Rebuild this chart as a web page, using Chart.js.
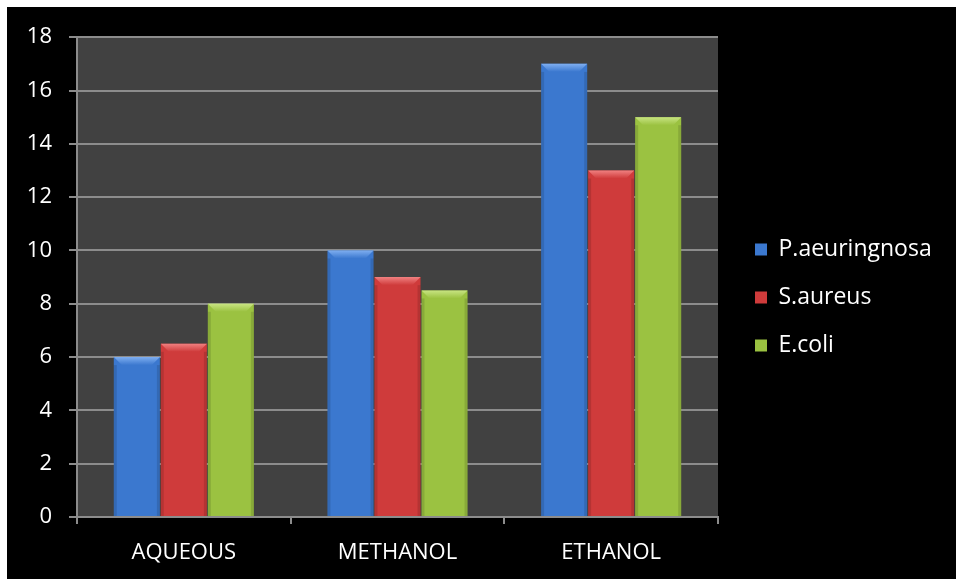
<!DOCTYPE html>
<html>
<head>
<meta charset="utf-8">
<script src="https://cdn.jsdelivr.net/npm/chart.js@4/dist/chart.umd.min.js"></script>
<style>
    html, body { margin: 0; padding: 0; background: #ffffff; }
    #wrap { position: absolute; left: 7px; top: 7px; width: 949px; height: 572px; background: #000000; }
</style>
</head>
<body>
<div id="wrap"><canvas id="grafico" width="949" height="572"></canvas></div>
<script>
// Datos del gráfico
const extractos = ['AQUEOUS', 'METHANOL', 'ETHANOL'];
const pAeruginosa = [6, 10, 17];
const sAureus = [6.5, 9, 13];
const eColi = [8, 8.5, 15];
const nombresSeries = ['P.aeuringnosa', 'S.aureus', 'E.coli'];

const colores = ['#3b78cf', '#cf3b3b', '#9bc241'];
const coloresClaros = ['#7eaef0', '#f08080', '#c8e482'];

const fuente = 'Open Sans';

// Fondo gris del área de trazado
const fondoArea = {
    id: 'fondoArea',
    beforeDraw(chart) {
        const { ctx, chartArea: a } = chart;
        ctx.save();
        ctx.fillStyle = '#414141';
        ctx.fillRect(a.left, a.top, a.right - a.left, a.bottom - a.top);
        ctx.restore();
    }
};

// Biselado superior de cada barra
const bisel = {
    id: 'bisel',
    afterDatasetsDraw(chart) {
        const ctx = chart.ctx;
        chart.data.datasets.forEach((ds, i) => {
            chart.getDatasetMeta(i).data.forEach(bar => {
                const izq = bar.x - bar.width / 2;
                const der = bar.x + bar.width / 2;
                const arriba = bar.y;
                const h = 8;
                ctx.save();
                const grad = ctx.createLinearGradient(0, arriba, 0, arriba + h);
                grad.addColorStop(0, coloresClaros[i]);
                grad.addColorStop(1, colores[i]);
                ctx.fillStyle = grad;
                ctx.beginPath();
                ctx.moveTo(izq, arriba);
                ctx.lineTo(der, arriba);
                ctx.lineTo(der - h, arriba + h);
                ctx.lineTo(izq + h, arriba + h);
                ctx.closePath();
                ctx.fill();
                ctx.fillStyle = 'rgba(0,0,0,0.12)';
                ctx.fillRect(izq, arriba + h, 3, bar.base - arriba - h);
                ctx.fillRect(der - 3, arriba + h, 3, bar.base - arriba - h);
                ctx.restore();
            });
        });
    }
};

// Ancho fijo para la leyenda de la derecha
const anchoLeyenda = {
    id: 'anchoLeyenda',
    afterInit(chart) {
        const legend = chart.legend;
        const fitOriginal = legend.fit;
        legend.fit = function () {
            fitOriginal.call(this);
            this.width = 238;
        };
    },
    afterLayout(chart) {
        chart.legend.left += 12;
        chart.legend.top -= 10;
        chart.legend.bottom -= 10;
    }
};

const series = [pAeruginosa, sAureus, eColi];

new Chart(document.getElementById('grafico'), {
    type: 'bar',
    data: {
        labels: extractos,
        datasets: series.map((valores, i) => ({
            label: nombresSeries[i],
            data: valores,
            backgroundColor: colores[i],
            borderWidth: 0,
            barPercentage: 0.98,
            categoryPercentage: 0.66
        }))
    },
    options: {
        responsive: false,
        animation: false,
        layout: { padding: { top: 29, bottom: 0 } },
        plugins: {
            legend: {
                position: 'right',
                align: 'center',
                labels: {
                    color: '#ffffff',
                    font: { family: fuente, size: 23 },
                    boxWidth: 12,
                    boxHeight: 12,
                    padding: 25,
                    generateLabels(chart) {
                        return chart.data.datasets.map((ds, i) => ({
                            text: ds.label,
                            fillStyle: colores[i],
                            strokeStyle: colores[i],
                            lineWidth: 0,
                            fontColor: '#ffffff',
                            datasetIndex: i
                        }));
                    }
                }
            },
            tooltip: { enabled: false }
        },
        scales: {
            x: {
                afterFit(scale) { scale.height = 62; },
                grid: {
                    display: true,
                    drawOnChartArea: false,
                    drawTicks: true,
                    tickLength: 7,
                    color: '#8c8c8c',
                    lineWidth: 2
                },
                border: { color: '#8c8c8c', width: 2 },
                ticks: {
                    color: '#ffffff',
                    font: { family: fuente, size: 22 },
                    padding: 16
                }
            },
            y: {
                min: 0,
                max: 18,
                afterFit(scale) { scale.width = 70; },
                grid: {
                    color: '#8c8c8c',
                    lineWidth: 2,
                    tickLength: 8
                },
                border: { color: '#8c8c8c', width: 2 },
                ticks: {
                    stepSize: 2,
                    color: '#ffffff',
                    font: { family: fuente, size: 22 },
                    padding: 17
                }
            }
        }
    },
    plugins: [fondoArea, bisel, anchoLeyenda]
});
</script>
</body>
</html>
